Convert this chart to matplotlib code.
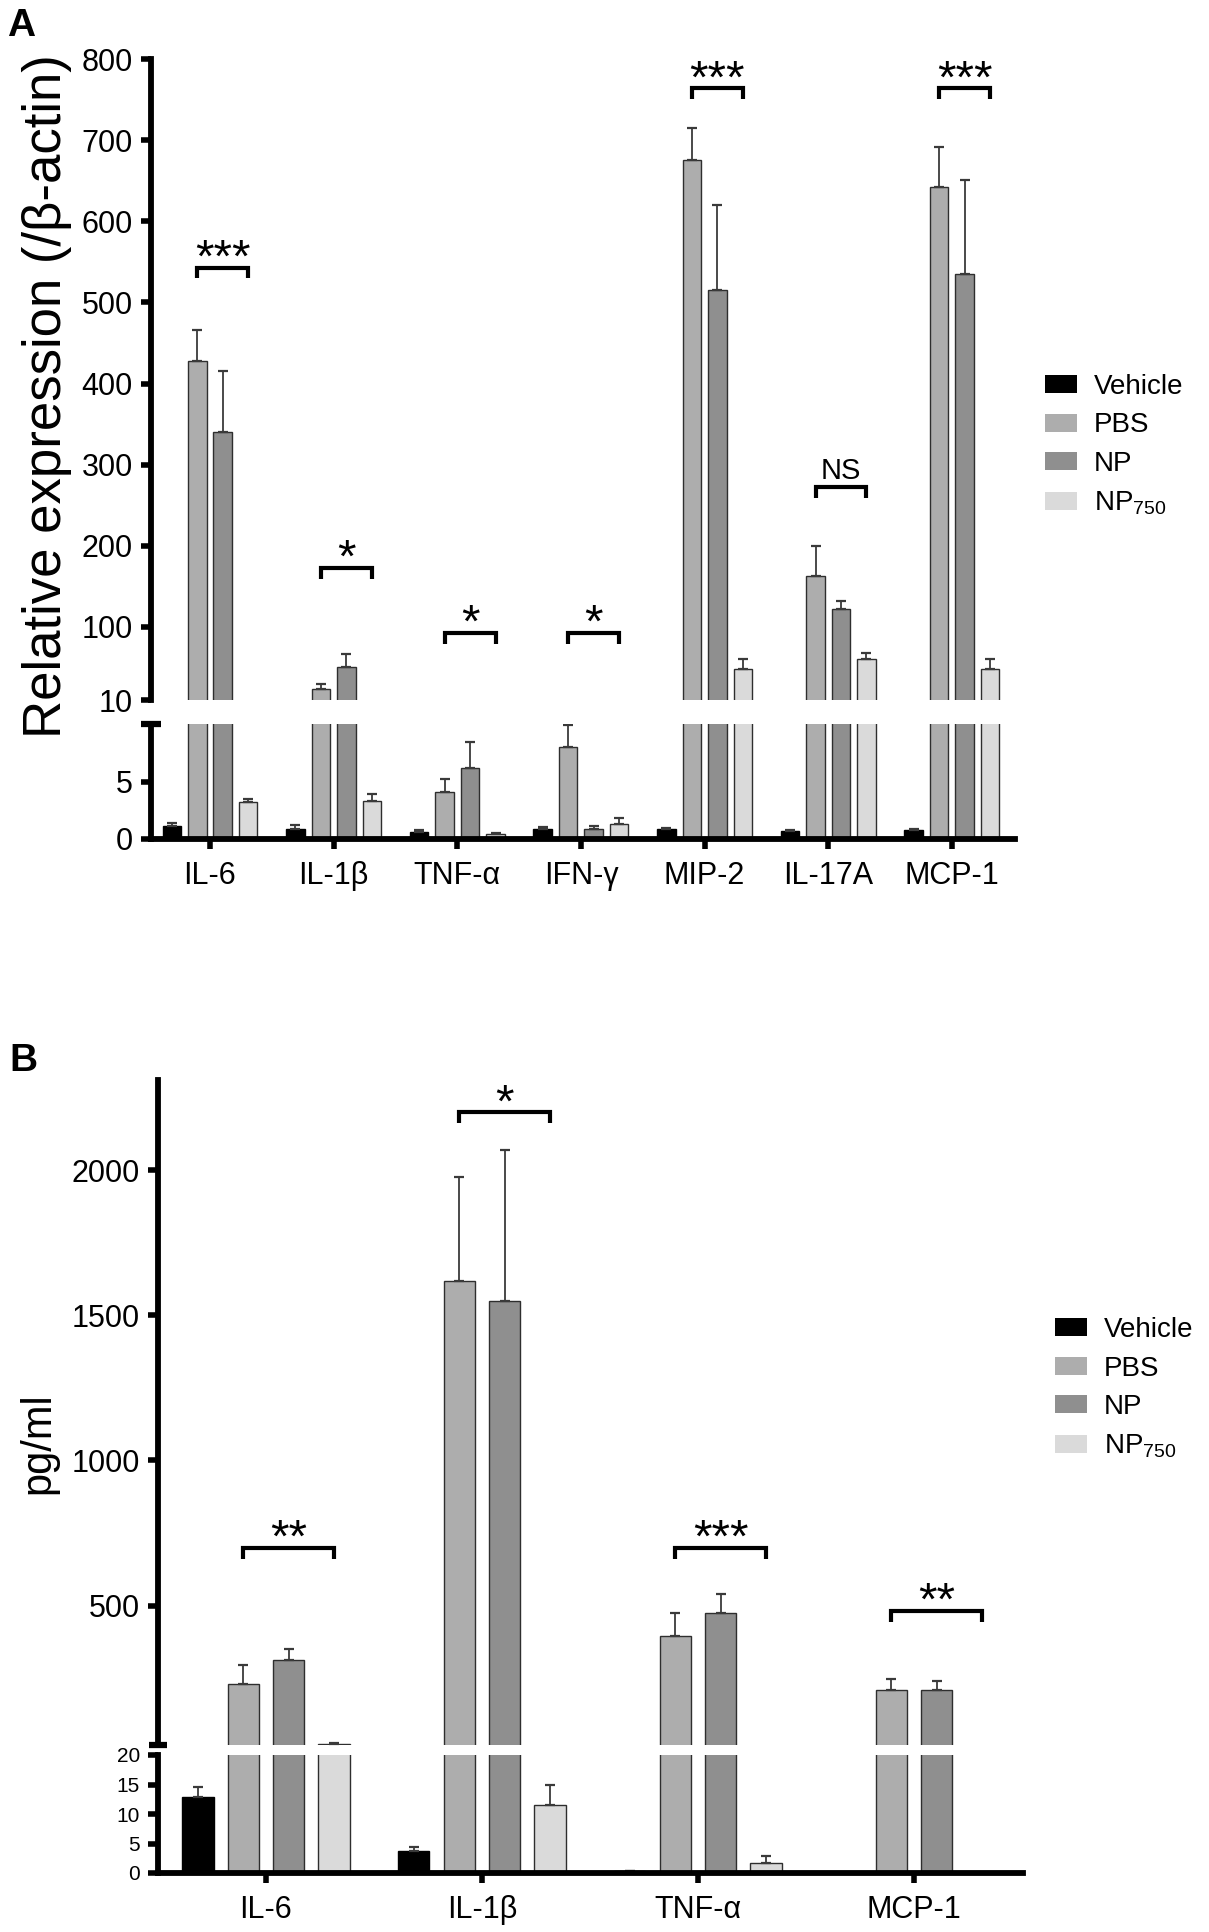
import matplotlib
matplotlib.use('Agg')
import matplotlib.pyplot as plt
import numpy as np
from matplotlib.patches import Patch

plt.rcParams['font.family'] = ['Liberation Sans', 'DejaVu Sans']
plt.rcParams['mathtext.fontset'] = 'custom'
plt.rcParams['mathtext.rm'] = 'Liberation Sans'

# groups / colours
groups = ['Vehicle', 'PBS', 'NP', r'NP$_\mathregular{750}$']
colors = ['#000000', '#adadad', '#8f8f8f', '#dadada']

# panel A - relative expression
cyto_a = ['IL-6', 'IL-1β', 'TNF-α', 'IFN-γ', 'MIP-2', 'IL-17A', 'MCP-1']
veh_a = [1.1, 0.9, 0.6, 0.9, 0.9, 0.7, 0.8]
veh_a_err = [0.3, 0.3, 0.15, 0.15, 0.1, 0.05, 0.1]
pbs_a = [428, 24, 4.1, 8.0, 675, 163, 642]
pbs_a_err = [38, 6, 1.1, 1.9, 40, 37, 50]
np_a = [340, 51, 6.2, 0.9, 515, 122, 535]
np_a_err = [76, 16, 2.2, 0.2, 105, 10, 116]
np750_a = [3.2, 3.3, 0.4, 1.3, 48, 60, 48]
np750_a_err = [0.3, 0.6, 0.1, 0.5, 12, 8, 12]
sig_a = ['***', '*', '*', '*', '***', 'NS', '***']
sig_a_y = [543, 173, 93, 93, 764, 272, 764]

# panel B - pg/ml
cyto_b = ['IL-6', 'IL-1β', 'TNF-α', 'MCP-1']
veh_b = [12.8, 3.7, 0.3, 0]
veh_b_err = [1.7, 0.7, 0, 0]
pbs_b = [229, 1617, 397, 208]
pbs_b_err = [68, 360, 79, 40]
np_b = [314, 1548, 473, 209]
np_b_err = [38, 521, 67, 31]
np750_b = [24, 11.5, 1.7, 0]
np750_b_err = [1.5, 3.4, 1.2, 0]
sig_b = ['**', '*', '***', '**']
sig_b_y = [699, 2199, 699, 483]

W, H = 1209, 1932
fig = plt.figure(figsize=(W / 100, H / 100), dpi=100)


def box(x0, y0, x1, y1):
    return [x0 / W, 1 - y1 / H, (x1 - x0) / W, (y1 - y0) / H]


def draw_bars(ax, n, series, errors, pitch, width, lo, hi):
    x = np.arange(n)
    for i, (vals, errs) in enumerate(zip(series, errors)):
        xi = x + (i - 1.5) * pitch
        vals = np.asarray(vals, float)
        ax.bar(xi, vals, width, color=colors[i],
               edgecolor='#000000' if i == 0 else '#2e2e2e', linewidth=1.0)
        # only the error bars whose bar ends inside this segment
        shown = np.where((vals > lo) & (vals < hi), vals, np.nan)
        ax.errorbar(xi, shown, yerr=[np.zeros(n), errs], fmt='none',
                    ecolor='#3a3a3a', elinewidth=1.3, capsize=3.8, capthick=1.6)


def style(ax, top, ysize, minor_at, minor_len):
    ax.spines['right'].set_visible(False)
    ax.spines['top'].set_visible(False)
    ax.spines['left'].set_linewidth(4.2)
    ax.spines['bottom'].set_linewidth(4.2)
    ax.tick_params(axis='y', which='major', direction='out', length=7, width=4,
                   labelsize=ysize, pad=6)
    ax.set_yticks([minor_at], minor=True)
    ax.tick_params(axis='y', which='minor', direction='inout', length=minor_len, width=4.5)
    if top:
        ax.spines['bottom'].set_visible(False)
        ax.tick_params(axis='x', bottom=False, labelbottom=False)
    else:
        ax.tick_params(axis='x', direction='out', length=7, width=4, pad=9)


def brackets(ax, labels, heights, leg, pitch):
    for i, (lab, h) in enumerate(zip(labels, heights)):
        x1, x2 = i - 0.5 * pitch, i + 1.5 * pitch
        ax.plot([x1, x1, x2, x2], [h - leg, h, h, h - leg], color='black', lw=3,
                solid_capstyle='butt', solid_joinstyle='miter')
        if lab == 'NS':
            ax.annotate(lab, (i + 0.5 * pitch, h), xytext=(0, 6), textcoords='offset points',
                        ha='center', va='baseline', fontsize=21)
        else:
            ax.annotate(lab, (i + 0.5 * pitch, h), xytext=(0, -3), textcoords='offset points',
                        ha='center', va='baseline', fontsize=34)


# ---- Panel A
pitch_a, width_a = 0.206, 0.150
axA_top = fig.add_axes(box(151, 59, 1015, 700))
axA_bot = fig.add_axes(box(151, 724, 1015, 839))
series_a = [veh_a, pbs_a, np_a, np750_a]
errs_a = [veh_a_err, pbs_a_err, np_a_err, np750_a_err]
draw_bars(axA_top, len(cyto_a), series_a, errs_a, pitch_a, width_a, 10, 1e9)
draw_bars(axA_bot, len(cyto_a), series_a, errs_a, pitch_a, width_a, -1, 10)
for ax in (axA_top, axA_bot):
    ax.set_xlim(-0.477, 6.51)
axA_top.set_ylim(10, 800)
axA_top.set_yticks([10, 100, 200, 300, 400, 500, 600, 700, 800])
axA_bot.set_ylim(0, 10)
axA_bot.set_yticks([0, 5])
style(axA_top, True, 22, 10, 14)
style(axA_bot, False, 22, 10, 14)
axA_bot.set_xticks(np.arange(len(cyto_a)))
axA_bot.set_xticklabels(cyto_a, fontsize=22)
brackets(axA_top, sig_a, sig_a_y, 13.5, pitch_a)

fig.text(47 / W, 1 - 396 / H, 'Relative expression (/β-actin)', rotation=90,
         ha='center', va='center', fontsize=38)
fig.text(7 / W, 1 - 8 / H, 'A', fontsize=28, fontweight='bold', ha='left', va='top')

# ---- Panel B
pitch_b, width_b = 0.210, 0.144
axB_top = fig.add_axes(box(158, 1080, 1023, 1745))
axB_bot = fig.add_axes(box(158, 1755, 1023, 1873))
series_b = [veh_b, pbs_b, np_b, np750_b]
errs_b = [veh_b_err, pbs_b_err, np_b_err, np750_b_err]
draw_bars(axB_top, len(cyto_b), series_b, errs_b, pitch_b, width_b, 20, 1e9)
draw_bars(axB_bot, len(cyto_b), series_b, errs_b, pitch_b, width_b, -1, 20)
for ax in (axB_top, axB_bot):
    ax.set_xlim(-0.5, 3.505)
axB_top.set_ylim(20, 2310)
axB_top.set_yticks([500, 1000, 1500, 2000])
axB_bot.set_ylim(0, 20)
axB_bot.set_yticks([0, 5, 10, 15, 20])
style(axB_top, True, 22, 20, 13)
style(axB_bot, False, 15, 20, 13)
axB_bot.set_xticks(np.arange(len(cyto_b)))
axB_bot.set_xticklabels(cyto_b, fontsize=22)
brackets(axB_top, sig_b, sig_b_y, 38, pitch_b)

fig.text(38 / W, 1 - 1443 / H, 'pg/ml', rotation=90, ha='center', va='center', fontsize=30)
fig.text(9 / W, 1 - 1043 / H, 'B', fontsize=28, fontweight='bold', ha='left', va='top')

# legends
handles = [Patch(facecolor=c, edgecolor='none') for c in colors]
for ax, (lx, ly) in ((axA_top, (1045, 374)), (axB_top, (1055, 1317))):
    fig.legend(handles, groups, loc='upper left', bbox_to_anchor=(lx / W, 1 - ly / H),
               frameon=False, fontsize=20, handlelength=1.15, handleheight=0.62,
               handletextpad=0.6, labelspacing=0.45, borderpad=0, borderaxespad=0)

fig.savefig('out.png', dpi=100)
